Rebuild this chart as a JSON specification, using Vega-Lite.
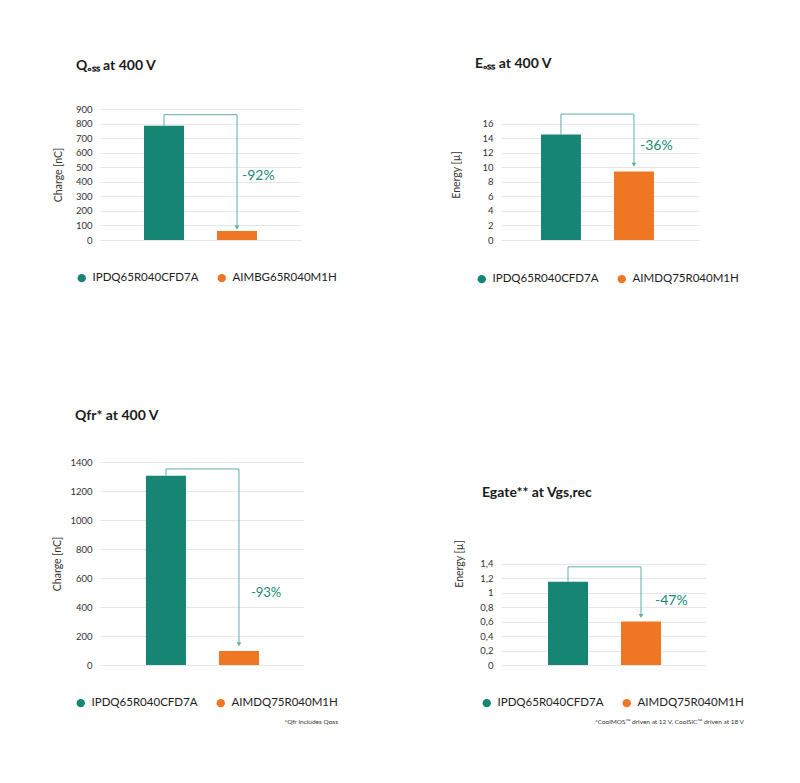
{
  "$schema": "https://vega.github.io/schema/vega-lite/v6.json",
  "background": "white",
  "padding": {"left": 52, "top": 57, "right": 5, "bottom": 5},
  "columns": 2,
  "align": "none",
  "bounds": "flush",
  "spacing": {"row": 222, "column": 197},
  "resolve": {"scale": {"color": "independent", "x": "independent", "y": "independent"}, "legend": {"color": "independent"}},
  "config": {
    "font": "Lato",
    "view": {"stroke": null},
    "axisY": {"domain": false, "ticks": false, "tickCount": 50, "labelPadding": 8, "labelFontSize": 9.5, "labelColor": "#333333", "labelOverlap": false, "titleFontSize": 10.5, "titleFontWeight": "normal", "titleColor": "#333333", "gridColor": "#e6e6e6", "gridWidth": 1},
    "title": {"anchor": "start", "frame": "group", "fontSize": 14, "fontWeight": "bold", "color": "#1a1a1a"},
    "legend": {"orient": "none", "direction": "horizontal", "symbolType": "circle", "symbolSize": 70, "symbolStrokeWidth": 0, "labelFontSize": 11.5, "labelColor": "#222222", "labelOffset": 5, "columnPadding": 17, "titleOrient": "bottom", "titleAnchor": "end", "titleFontSize": 6.5, "titleFontWeight": "normal", "titleColor": "#333333", "titlePadding": 10, "titleLimit": 400, "labelLimit": 300}
  },
  "concat": [
    {
      "width": 201, "height": 131,
      "title": {"text": "Qₒₛₛ at 400 V", "dx": -24, "offset": 31},
      "layer": [
        {
          "data": {"values": [{"device": "IPDQ65R040CFD7A", "value": 785}, {"device": "AIMBG65R040M1H", "value": 62}]},
          "mark": {"type": "bar"},
          "encoding": {
            "x": {"field": "device", "type": "nominal", "axis": null, "scale": {"domain": ["IPDQ65R040CFD7A", "AIMBG65R040M1H"], "paddingInner": 0.452, "paddingOuter": 0.603}},
            "y": {"field": "value", "type": "quantitative", "scale": {"domain": [0, 900], "nice": false}, "axis": {"values": [0, 100, 200, 300, 400, 500, 600, 700, 800, 900], "tickCount": 50, "format": "d", "title": "Charge [nC]", "titlePadding": 12}},
            "color": {"field": "device", "type": "nominal", "scale": {"domain": ["IPDQ65R040CFD7A", "AIMBG65R040M1H"], "range": ["#178573", "#ef7622"]}, "legend": {"title": null, "legendX": -24, "legendY": 163}}
          }
        },
        {
          "data": {"values": [{"device": "IPDQ65R040CFD7A", "v": 785, "o": 1}, {"device": "IPDQ65R040CFD7A", "v": 861, "o": 2}, {"device": "AIMBG65R040M1H", "v": 861, "o": 3}, {"device": "AIMBG65R040M1H", "v": 86, "o": 4}]},
          "mark": {"type": "line", "color": "#5cb0a5", "strokeWidth": 1},
          "encoding": {"x": {"field": "device", "type": "nominal"}, "y": {"field": "v", "type": "quantitative"}, "order": {"field": "o", "type": "quantitative"}}
        },
        {
          "data": {"values": [{"device": "AIMBG65R040M1H", "v": 86}]},
          "mark": {"type": "point", "shape": "triangle-down", "filled": true, "size": 22, "color": "#5cb0a5", "opacity": 1},
          "encoding": {"x": {"field": "device", "type": "nominal"}, "y": {"field": "v", "type": "quantitative"}}
        },
        {
          "data": {"values": [{"device": "AIMBG65R040M1H", "v": 440, "label": "-92%"}]},
          "mark": {"type": "text", "align": "left", "dx": 5, "fontSize": 14, "color": "#1a8a78"},
          "encoding": {"x": {"field": "device", "type": "nominal"}, "y": {"field": "v", "type": "quantitative"}, "text": {"field": "label"}}
        }
      ]
    },
    {
      "width": 198, "height": 131,
      "title": {"text": "Eₒₛₛ at 400 V", "dx": -26, "offset": 38},
      "layer": [
        {
          "data": {"values": [{"device": "IPDQ65R040CFD7A", "value": 14.5}, {"device": "AIMDQ75R040M1H", "value": 9.4}]},
          "mark": {"type": "bar"},
          "encoding": {
            "x": {"field": "device", "type": "nominal", "axis": null, "scale": {"domain": ["IPDQ65R040CFD7A", "AIMDQ75R040M1H"], "paddingInner": 0.452, "paddingOuter": 0.582, "align": 0.47}},
            "y": {"field": "value", "type": "quantitative", "scale": {"domain": [0, 18], "nice": false}, "axis": {"values": [0, 2, 4, 6, 8, 10, 12, 14, 16], "tickCount": 50, "format": "d", "title": "Energy [µ]", "titlePadding": 20}},
            "color": {"field": "device", "type": "nominal", "scale": {"domain": ["IPDQ65R040CFD7A", "AIMDQ75R040M1H"], "range": ["#178573", "#ef7622"]}, "legend": {"title": null, "legendX": -25, "legendY": 164}}
          }
        },
        {
          "data": {"values": [{"device": "IPDQ65R040CFD7A", "v": 14.5, "o": 1}, {"device": "IPDQ65R040CFD7A", "v": 17.3, "o": 2}, {"device": "AIMDQ75R040M1H", "v": 17.3, "o": 3}, {"device": "AIMDQ75R040M1H", "v": 10.35, "o": 4}]},
          "mark": {"type": "line", "color": "#5cb0a5", "strokeWidth": 1},
          "encoding": {"x": {"field": "device", "type": "nominal"}, "y": {"field": "v", "type": "quantitative"}, "order": {"field": "o", "type": "quantitative"}}
        },
        {
          "data": {"values": [{"device": "AIMDQ75R040M1H", "v": 10.35}]},
          "mark": {"type": "point", "shape": "triangle-down", "filled": true, "size": 22, "color": "#5cb0a5", "opacity": 1},
          "encoding": {"x": {"field": "device", "type": "nominal"}, "y": {"field": "v", "type": "quantitative"}}
        },
        {
          "data": {"values": [{"device": "AIMDQ75R040M1H", "v": 12.85, "label": "-36%"}]},
          "mark": {"type": "text", "align": "left", "dx": 6, "fontSize": 14, "color": "#1a8a78"},
          "encoding": {"x": {"field": "device", "type": "nominal"}, "y": {"field": "v", "type": "quantitative"}, "text": {"field": "label"}}
        }
      ]
    },
    {
      "width": 204, "height": 203,
      "title": {"text": "Qfr* at 400 V", "dx": -25, "offset": 34},
      "layer": [
        {
          "data": {"values": [{"device": "IPDQ65R040CFD7A", "value": 1305}, {"device": "AIMDQ75R040M1H", "value": 96}]},
          "mark": {"type": "bar"},
          "encoding": {
            "x": {"field": "device", "type": "nominal", "axis": null, "scale": {"domain": ["IPDQ65R040CFD7A", "AIMDQ75R040M1H"], "paddingInner": 0.452, "paddingOuter": 0.623, "align": 0.505}},
            "y": {"field": "value", "type": "quantitative", "scale": {"domain": [0, 1400], "nice": false}, "axis": {"values": [0, 200, 400, 600, 800, 1000, 1200, 1400], "tickCount": 50, "format": "d", "title": "Charge [nC]", "titlePadding": 7}},
            "color": {"field": "device", "type": "nominal", "scale": {"domain": ["IPDQ65R040CFD7A", "AIMDQ75R040M1H"], "range": ["#178573", "#ef7622"]}, "legend": {"title": "*Qfr includes Qoss", "legendX": -25, "legendY": 235}}
          }
        },
        {
          "data": {"values": [{"device": "IPDQ65R040CFD7A", "v": 1305, "o": 1}, {"device": "IPDQ65R040CFD7A", "v": 1352, "o": 2}, {"device": "AIMDQ75R040M1H", "v": 1352, "o": 3}, {"device": "AIMDQ75R040M1H", "v": 143, "o": 4}]},
          "mark": {"type": "line", "color": "#5cb0a5", "strokeWidth": 1},
          "encoding": {"x": {"field": "device", "type": "nominal"}, "y": {"field": "v", "type": "quantitative"}, "order": {"field": "o", "type": "quantitative"}}
        },
        {
          "data": {"values": [{"device": "AIMDQ75R040M1H", "v": 143}]},
          "mark": {"type": "point", "shape": "triangle-down", "filled": true, "size": 22, "color": "#5cb0a5", "opacity": 1},
          "encoding": {"x": {"field": "device", "type": "nominal"}, "y": {"field": "v", "type": "quantitative"}}
        },
        {
          "data": {"values": [{"device": "AIMDQ75R040M1H", "v": 498, "label": "-93%"}]},
          "mark": {"type": "text", "align": "left", "dx": 12, "fontSize": 13, "color": "#1a8a78"},
          "encoding": {"x": {"field": "device", "type": "nominal"}, "y": {"field": "v", "type": "quantitative"}, "text": {"field": "label"}}
        }
      ]
    },
    {
      "width": 205, "height": 203,
      "title": {"text": "Egate** at Vgs,rec", "dx": -19, "offset": 39, "dy": 77},
      "layer": [
        {
          "data": {"values": [{"device": "IPDQ65R040CFD7A", "value": 1.15}, {"device": "AIMDQ75R040M1H", "value": 0.6}]},
          "mark": {"type": "bar"},
          "encoding": {
            "x": {"field": "device", "type": "nominal", "axis": null, "scale": {"domain": ["IPDQ65R040CFD7A", "AIMDQ75R040M1H"], "paddingInner": 0.452, "paddingOuter": 0.63, "align": 0.511}},
            "y": {"field": "value", "type": "quantitative", "scale": {"domain": [0, 2.8], "nice": false}, "axis": {"values": [0, 0.2, 0.4, 0.6, 0.8, 1, 1.2, 1.4], "tickCount": 50, "labelExpr": "replace(format(datum.value, '~g'), '.', ',')", "title": "Energy [µ]", "titlePadding": 15}},
            "color": {"field": "device", "type": "nominal", "scale": {"domain": ["IPDQ65R040CFD7A", "AIMDQ75R040M1H"], "range": ["#178573", "#ef7622"]}, "legend": {"title": "*CoolMOS™ driven at 12 V, CoolSiC™ driven at 18 V", "legendX": -20, "legendY": 235}}
          }
        },
        {
          "data": {"values": [{"device": "IPDQ65R040CFD7A", "v": 1.15, "o": 1}, {"device": "IPDQ65R040CFD7A", "v": 1.354, "o": 2}, {"device": "AIMDQ75R040M1H", "v": 1.354, "o": 3}, {"device": "AIMDQ75R040M1H", "v": 0.677, "o": 4}]},
          "mark": {"type": "line", "color": "#5cb0a5", "strokeWidth": 1},
          "encoding": {"x": {"field": "device", "type": "nominal"}, "y": {"field": "v", "type": "quantitative"}, "order": {"field": "o", "type": "quantitative"}}
        },
        {
          "data": {"values": [{"device": "AIMDQ75R040M1H", "v": 0.677}]},
          "mark": {"type": "point", "shape": "triangle-down", "filled": true, "size": 22, "color": "#5cb0a5", "opacity": 1},
          "encoding": {"x": {"field": "device", "type": "nominal"}, "y": {"field": "v", "type": "quantitative"}}
        },
        {
          "data": {"values": [{"device": "AIMDQ75R040M1H", "v": 0.886, "label": "-47%"}]},
          "mark": {"type": "text", "align": "left", "dx": 14, "fontSize": 14, "color": "#1a8a78"},
          "encoding": {"x": {"field": "device", "type": "nominal"}, "y": {"field": "v", "type": "quantitative"}, "text": {"field": "label"}}
        }
      ]
    }
  ]
}
